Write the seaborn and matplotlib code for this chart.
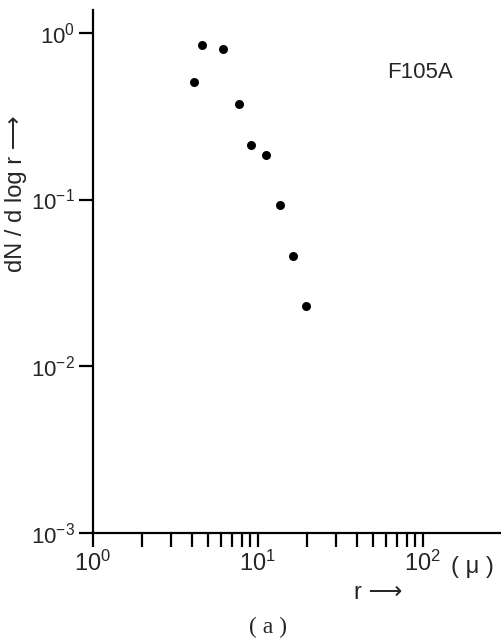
import numpy as np
import matplotlib
matplotlib.use("Agg")
import matplotlib.pyplot as plt
import matplotlib.ticker as mticker
import seaborn as sns

# datos (a)
r = [4.1, 4.6, 6.2, 7.7, 9.15, 11.2, 13.6, 16.4, 19.6]
dn_dlogr = [0.51, 0.84, 0.80, 0.375, 0.211, 0.184, 0.093, 0.046, 0.0231]

x_ticks = [1, 10, 100]
x_labels = ["$10^{0}$", "$10^{1}$", "$10^{2}$"]
y_ticks = [1e-3, 1e-2, 1e-1, 1e0]
y_labels = ["$10^{-3}$", "$10^{-2}$", "$10^{-1}$", "$10^{0}$"]

sns.set_style("ticks")
plt.rcParams['font.family'] = ['Liberation Sans', 'DejaVu Sans']
plt.rcParams['mathtext.fontset'] = 'custom'
plt.rcParams['mathtext.rm'] = 'Liberation Sans'
plt.rcParams['mathtext.it'] = 'Liberation Sans:italic'

fig = plt.figure(figsize=(5.02, 6.38), dpi=100)
ax = fig.add_axes([0.1847, 0.1646, 0.8153, 0.8197])

sns.scatterplot(x=r, y=dn_dlogr, color='black', s=42, edgecolor=None, linewidth=0, ax=ax)

ax.set_xscale('log')
ax.set_yscale('log')
ax.set_xlim(1, 303)
ax.set_ylim(1e-3, 1.37)

ax.set_xticks(x_ticks)
ax.set_xticklabels(x_labels, fontsize=17)
ax.set_yticks(y_ticks)
ax.set_yticklabels(y_labels, fontsize=16)

# marcas menores solo hasta 90
minor = [m * d for d in (1, 10) for m in range(2, 10)]
ax.xaxis.set_minor_locator(mticker.FixedLocator(minor))
ax.xaxis.set_minor_formatter(mticker.NullFormatter())
ax.yaxis.set_minor_locator(mticker.NullLocator())

ax.tick_params(axis='both', which='major', direction='out', length=10, width=1.6, color='black', pad=3)
ax.tick_params(axis='x', which='minor', direction='out', length=10, width=1.6, color='black')

sns.despine(ax=ax)
for s in ['left', 'bottom']:
    ax.spines[s].set_linewidth(1.6)
    ax.spines[s].set_color('black')

ax.set_xlabel("")
ax.set_ylabel("")

fig.text(0.942, 0.112, "( μ )", fontsize=17, ha='center', va='center')
fig.text(0.753, 0.071, "r ⟶", fontsize=17, ha='center', va='center')
fig.text(0.032, 0.696, "dN / d log r ⟶", fontsize=17, rotation=90, ha='center', va='center')
fig.text(0.837, 0.886, "F105A", fontsize=16, ha='center', va='center')
fig.text(0.534, 0.017, "( a )", fontsize=17, ha='center', va='center', family='Liberation Serif')

fig.savefig("out.png", dpi=100)
